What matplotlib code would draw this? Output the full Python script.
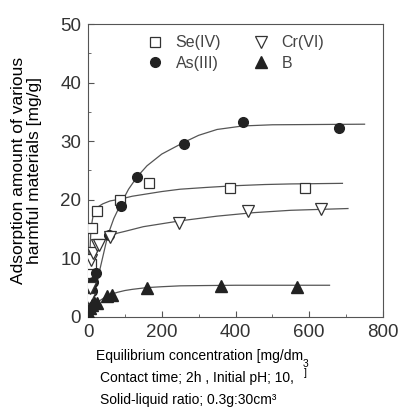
import numpy as np
import matplotlib
matplotlib.use('Agg')
import matplotlib.pyplot as plt
from matplotlib.ticker import MultipleLocator

plt.rcParams.update({
    'font.family': ['Liberation Sans', 'DejaVu Sans'],
    'font.size': 10,
})

# --- measured points (C [mg/dm3], q [mg/g]) ---
se_x = [2, 4, 5, 8, 10, 24, 87, 166, 386, 588]
se_y = [2, 5, 7.5, 9, 15.1, 18.1, 20.0, 22.9, 22.0, 22.0]
as_x = [3, 6, 10, 14, 22, 56, 89, 134, 260, 419, 681]
as_y = [1, 3, 4.5, 6, 7.5, 14.0, 18.9, 23.9, 29.6, 33.3, 32.2]
cr_x = [1, 3, 5, 7, 14, 24, 31, 60, 247, 434, 633]
cr_y = [1, 3, 5, 9.7, 10.9, 12.3, 12.3, 13.6, 16.1, 18.0, 18.5]
b_x = [2, 5, 10, 24, 51, 64, 161, 362, 567]
b_y = [0.5, 1.5, 2.0, 2.4, 3.5, 3.8, 4.9, 5.3, 5.1]

# --- fitted curves ---
se_fx = [0, 3, 8, 15, 25, 40, 60, 87, 120, 150, 200, 250, 320, 400, 480, 550, 690]
se_fy = [0, 8, 15, 17.8, 18.7, 19.3, 19.8, 20.1, 20.6, 20.9, 21.4, 21.8, 22.1,
         22.4, 22.6, 22.7, 22.8]
as_fx = [0, 10, 20, 30, 54, 70, 89, 110, 133, 160, 200, 260, 300, 350, 420, 500, 750]
as_fy = [0, 1.5, 4.5, 7.5, 14.0, 16.8, 19.3, 21.8, 23.9, 25.8, 27.8, 29.8, 31.0,
         32.0, 32.6, 32.8, 32.9]
cr_fx = [0, 5, 15, 30, 45, 60, 80, 100, 150, 200, 250, 350, 450, 550, 705]
cr_fy = [0, 7, 10, 12, 13.1, 13.8, 14.3, 14.6, 15.4, 15.9, 16.4, 17.2, 17.8,
         18.2, 18.5]
b_fx = [0, 10, 25, 45, 60, 80, 100, 120, 160, 200, 250, 320, 400, 655]
b_fy = [0, 1.5, 2.5, 3.3, 3.8, 4.2, 4.5, 4.7, 5.0, 5.15, 5.3, 5.35, 5.4, 5.4]

fig = plt.figure(figsize=(4.0, 4.11), dpi=100)
ax = fig.add_axes([0.22, 0.229, 0.7375, 0.7125])

lc = '#555555'
for fx, fy in [(se_fx, se_fy), (as_fx, as_fy), (cr_fx, cr_fy), (b_fx, b_fy)]:
    ax.plot(fx, fy, '-', color=lc, linewidth=0.9, zorder=1)

ms = 7
h1, = ax.plot(se_x, se_y, 's', mfc='white', mec='#333333', mew=0.9, ms=ms, ls='none', zorder=3)
h2, = ax.plot(as_x, as_y, 'o', color='#222222', ms=ms, ls='none', zorder=3)
h3, = ax.plot(cr_x, cr_y, 'v', mfc='white', mec='#333333', mew=0.9, ms=ms + 1, ls='none', zorder=3)
h4, = ax.plot(b_x, b_y, '^', color='#222222', ms=ms + 1, ls='none', zorder=3)

ax.legend([h1, h2, h3, h4], ['Se(IV)', 'As(III)', 'Cr(VI)', 'B'], ncol=2,
          loc='upper left', bbox_to_anchor=(0.145, 1.01), frameon=False,
          fontsize=11.5, handletextpad=0.7, columnspacing=1.9, labelspacing=0.35,
          handlelength=1.2, labelcolor='#444444')

ax.set_xlim(0, 800)
ax.set_ylim(0, 50)
ax.xaxis.set_major_locator(MultipleLocator(200))
ax.xaxis.set_minor_locator(MultipleLocator(100))
ax.yaxis.set_major_locator(MultipleLocator(10))
ax.yaxis.set_minor_locator(MultipleLocator(5))
ax.tick_params(which='both', direction='in', colors=lc, labelcolor='#333333',
               labelsize=13.5)
ax.tick_params(which='major', length=4)
ax.tick_params(which='minor', length=2.5)
ax.tick_params(axis='y', pad=5)
ax.tick_params(axis='x', pad=5)
for s in ax.spines.values():
    s.set_color(lc)

ax.set_ylabel('Adsorption amount of various\nharmful materials [mg/g]',
              fontsize=12.5, labelpad=13, linespacing=1.1)

fig.text(0.50, 0.135, 'Equilibrium concentration [mg/dm', ha='center',
         va='center', fontsize=10)
# the unit's superscript and closing bracket are stacked below the line
fig.text(0.763, 0.103, '3\n]', ha='center', va='center', fontsize=7.5,
         linespacing=0.85)
fig.text(0.25, 0.081, 'Contact time; 2h , Initial pH; 10,', ha='left',
         va='center', fontsize=10)
fig.text(0.25, 0.027, 'Solid-liquid ratio; 0.3g:30cm\u00b3', ha='left',
         va='center', fontsize=10)

fig.savefig('out.png', dpi=100)
